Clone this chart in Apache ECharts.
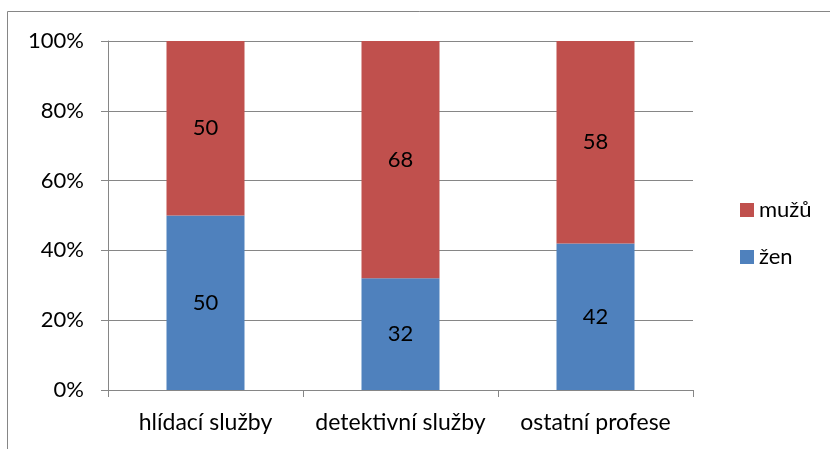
<!DOCTYPE html>
<html>
<head>
<meta charset="utf-8">
<script src="https://cdn.jsdelivr.net/npm/echarts@6/dist/echarts.min.js"></script>
<style>
  html, body { margin: 0; padding: 0; background: #fff; }
  #chart { width: 830px; height: 449px; }
</style>
</head>
<body>
<div id="chart"></div>
<script>
const categories = ['hlídací služby', 'detektivní služby', 'ostatní profese']
const zen = [50, 32, 42]
const muzu = [50, 68, 58]

const font = 'Lato, "Open Sans", sans-serif'
const chart = echarts.init(document.getElementById('chart'))

chart.setOption({
  animation: false,
  textStyle: { fontFamily: font },
  graphic: [{
    type: 'rect',
    shape: { x: 7.5, y: 11.5, width: 830, height: 450 },
    style: { fill: 'none', stroke: '#868686', lineWidth: 1 },
  }],
  grid: { left: 108, right: 137, top: 41, bottom: 59 },
  legend: {
    orient: 'vertical',
    left: 735,
    top: 194,
    itemWidth: 14,
    itemHeight: 14,
    itemGap: 25,
    icon: 'rect',
    textStyle: { fontSize: 22, color: '#000', fontFamily: font },
    data: ['mužů', 'žen'],
  },
  xAxis: {
    type: 'category',
    data: categories,
    axisLine: { lineStyle: { color: '#868686' } },
    axisTick: { show: true, length: 7, lineStyle: { color: '#868686' } },
    axisLabel: { color: '#000', fontSize: 23, margin: 21, interval: 0, hideOverlap: false, fontFamily: font },
  },
  yAxis: {
    type: 'value',
    min: 0,
    max: 100,
    interval: 20,
    axisLine: { show: true, lineStyle: { color: '#868686' } },
    axisTick: { show: true, length: 7, lineStyle: { color: '#868686' } },
    axisLabel: { color: '#000', fontSize: 22, margin: 24, formatter: '{value}%', fontFamily: font },
    splitLine: { lineStyle: { color: '#868686' } },
  },
  series: [
    {
      name: 'žen',
      type: 'bar',
      stack: 'a',
      data: zen,
      barWidth: '40%',
      itemStyle: { color: '#4F81BD' },
      label: { show: true, color: '#000', fontSize: 22, fontFamily: font },
    },
    {
      name: 'mužů',
      type: 'bar',
      stack: 'a',
      data: muzu,
      barWidth: '40%',
      itemStyle: { color: '#C0504D' },
      label: { show: true, color: '#000', fontSize: 22, fontFamily: font },
    },
  ],
})
</script>
</body>
</html>
